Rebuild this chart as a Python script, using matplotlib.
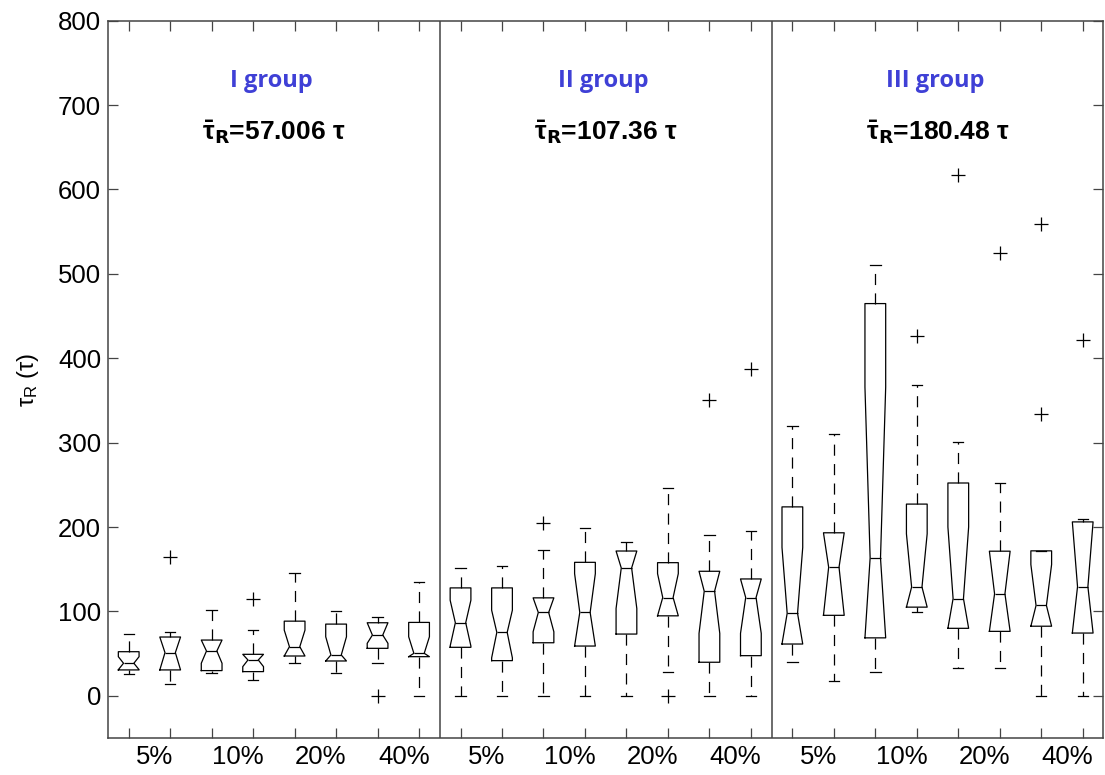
import matplotlib
matplotlib.use("Agg")
import matplotlib.pyplot as plt

# 3 groups x 8 boxes (tau units)
groups = ["I group", "II group", "III group"]
group_means = ["57.006", "107.36", "180.48"]
pct_labels = ["5%", "10%", "20%", "40%"]

medians = [38.6, 51.2, 53.1, 42.5, 58.2, 48.4, 72.0, 50.4,
           86.6, 75.2, 98.8, 98.8, 151.5, 116.5, 124.0, 116.5,
           97.8, 152.4, 163.3, 128.9, 115.2, 120.9, 107.1, 129.3]
q1 = [30.7, 30.7, 29.9, 28.7, 47.2, 41.3, 56.3, 46.4,
      57.5, 41.7, 62.9, 59.0, 73.2, 94.8, 39.8, 47.6,
      61.4, 95.4, 68.7, 105.1, 80.0, 76.4, 82.5, 74.4]
q3 = [52.3, 69.7, 66.1, 49.2, 88.5, 85.0, 86.6, 87.0,
      127.9, 127.9, 116.1, 158.2, 171.6, 157.8, 147.6, 138.5,
      223.9, 193.2, 464.8, 227.2, 252.2, 171.4, 171.8, 206.1]
whisk_lo = [26.4, 13.8, 26.8, 19.3, 39.3, 26.8, 39.3, 0,
            0, 0, 0, 0, 0, 28.7, 0, 0,
            40.0, 17.4, 28.7, 99.0, 33.1, 33.1, 0, 0]
whisk_hi = [73.6, 75.2, 101.9, 77.6, 145.2, 100.4, 93.6, 135.4,
            151.9, 153.5, 172.4, 198.7, 182.2, 246.4, 190.1, 194.8,
            319.3, 310.0, 510.5, 368.6, 300.7, 252.2, 171.8, 209.0]
notch_lo = [31.0, 30.7, 38.6, 34.6, 47.2, 41.3, 62.2, 46.4,
            59.0, 45.0, 75.9, 59.0, 103.5, 94.8, 74.0, 74.0,
            61.4, 95.4, 68.7, 105.1, 80.0, 76.4, 82.5, 74.4]
notch_hi = [46.4, 69.7, 66.1, 49.2, 77.9, 70.0, 86.6, 70.0,
            113.3, 101.5, 116.1, 144.8, 171.6, 144.8, 147.6, 138.5,
            175.8, 193.2, 365.8, 192.0, 200.1, 171.4, 155.6, 206.1]
outliers = [[], [164.5], [], [114.5], [], [], [0], [],
            [], [], [204.3], [], [], [0], [350.3], [386.9],
            [], [], [], [426.0], [617.5], [525.0], [559.6, 333.5], [421.6]]


def make_stats():
    stats = []
    for i in range(len(medians)):
        stats.append(dict(med=medians[i], q1=q1[i], q3=q3[i],
                          whislo=whisk_lo[i], whishi=whisk_hi[i],
                          cilo=notch_lo[i], cihi=notch_hi[i],
                          fliers=outliers[i]))
    return stats


def draw():
    plt.rcParams["font.family"] = ["Liberation Sans", "DejaVu Sans"]
    plt.rcParams["lines.scale_dashes"] = False
    plt.rcParams["mathtext.default"] = "regular"

    fig = plt.figure(figsize=(11.05, 7.75), dpi=100)
    ax = fig.add_axes([0.0977, 0.0477, 0.9009, 0.9256])

    n_per = len(medians) // len(groups)
    pos = list(range(1, len(medians) + 1))
    line = dict(color="black", linewidth=0.9)
    ax.bxp(make_stats(), positions=pos, widths=0.5, capwidths=0.25,
           shownotches=True,
           boxprops=line, medianprops=line, capprops=line,
           whiskerprops=dict(color="black", linewidth=0.9, linestyle=(0, (8, 6))),
           flierprops=dict(marker="+", markersize=10, markeredgecolor="black",
                           markeredgewidth=0.9, linestyle="none"))

    # group separators
    for g in range(1, len(groups)):
        ax.axvline(g * n_per + 0.5, color="#444444", linewidth=1.1)

    ax.set_xlim(0.5, len(medians) + 0.5)
    ax.set_ylim(-50, 800)
    ax.set_yticks(range(0, 801, 100))
    ax.set_xticks(pos)
    ax.set_xticklabels([])

    # percent labels sit between each pair of boxes
    lab_pos = []
    lab_txt = []
    for g in range(len(groups)):
        for k, lab in enumerate(pct_labels):
            lab_pos.append(g * n_per + 2 * k + 1.63)
            lab_txt.append(lab)
    ax.set_xticks(lab_pos, minor=True)
    ax.set_xticklabels(lab_txt, minor=True)
    ax.tick_params(axis="x", which="minor", length=0, pad=5, labelsize=18.5)

    ax.tick_params(axis="both", which="major", direction="in", length=7,
                   width=0.9, top=True, right=True, labelsize=18.5, pad=5,
                   color="#444444")
    for sp in ax.spines.values():
        sp.set_color("#444444")
        sp.set_linewidth(1.1)

    ax.set_ylabel("τ$_R$ (τ)", fontsize=17, labelpad=12)

    for g, name in enumerate(groups):
        cx = g * n_per + 4.45
        ax.text(cx, 729, name, ha="center", va="center", fontsize=17,
                fontweight="bold", color="#3f40d6", family="Open Sans")
        ax.text(cx + 0.05, 668,
                r"$\bar{τ}_{\mathbf{R}}$=" + group_means[g] + " τ",
                ha="center", va="center", fontsize=19, fontweight="bold")

    fig.savefig("out.png", dpi=100)


if __name__ == "__main__":
    draw()
